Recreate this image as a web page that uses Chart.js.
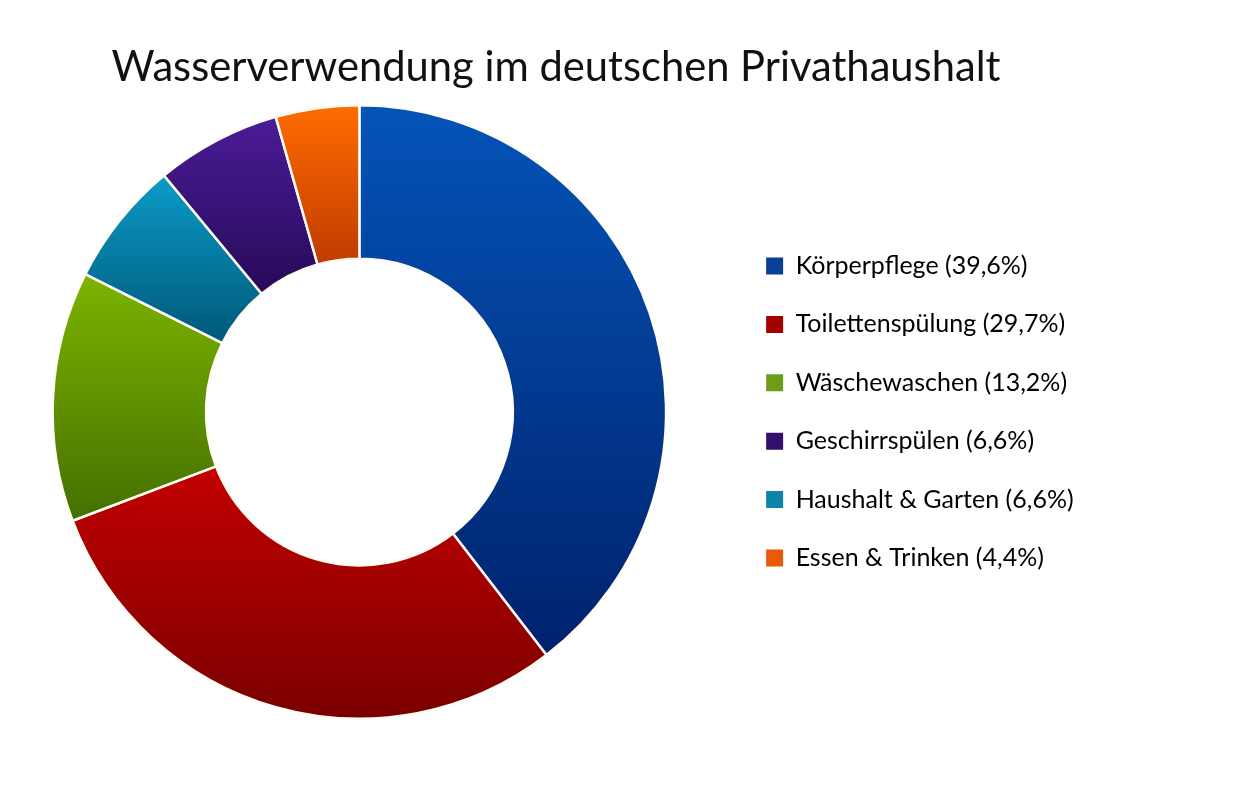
<!DOCTYPE html>
<html>
<head>
<meta charset="utf-8">
<script src="https://cdn.jsdelivr.net/npm/chart.js@4/dist/chart.umd.min.js"></script>
<style>
  html, body { margin: 0; padding: 0; background: #fff; }
  #wrap { width: 1260px; height: 798px; }
</style>
</head>
<body>
<div id="wrap"><canvas id="wasserChart"></canvas></div>
<script>
// slices in clockwise order from the top
const categories = [
  'Körperpflege',
  'Toilettenspülung',
  'Wäschewaschen',
  'Haushalt & Garten',
  'Geschirrspülen',
  'Essen & Trinken'
];
const shares = [39.6, 29.7, 13.2, 6.6, 6.6, 4.4];
// order the legend lists them in
const legendOrder = [0, 1, 2, 4, 3, 5];

const topColors = ['#0454b8', '#c20000', '#7cb400', '#0b9bc8', '#4b1c98', '#ff6c00'];
const bottomColors = ['#00216c', '#7a0000', '#447000', '#005878', '#270a58', '#c03c00'];
const legendColors = ['#0a3f98', '#a40000', '#6c9e1c', '#0c86a8', '#33106e', '#e85a06'];

function sliceGradient(context) {
  const i = context.dataIndex;
  const chart = context.chart;
  const area = chart.chartArea;
  if (!area) return topColors[i];
  const cx = (area.left + area.right) / 2;
  const cy = (area.top + area.bottom) / 2;
  const r = Math.min(area.width, area.height) / 2;
  const ri = r * 0.5;
  const total = shares.reduce((a, b) => a + b, 0);
  const before = shares.slice(0, i).reduce((a, b) => a + b, 0);
  const a0 = -Math.PI / 2 + before / total * Math.PI * 2;
  const a1 = a0 + shares[i] / total * Math.PI * 2;
  let ymin = Infinity, ymax = -Infinity;
  for (let k = 0; k <= 40; k++) {
    const a = a0 + (a1 - a0) * k / 40;
    [r, ri].forEach(rr => {
      const y = cy + rr * Math.sin(a);
      ymin = Math.min(ymin, y);
      ymax = Math.max(ymax, y);
    });
  }
  const g = chart.ctx.createLinearGradient(0, ymin, 0, ymax);
  g.addColorStop(0, topColors[i]);
  g.addColorStop(1, bottomColors[i]);
  return g;
}

// give the legend some empty room on its right side,
// and nudge the ring a bit to the left
const layoutTweaks = {
  id: 'layoutTweaks',
  beforeInit(chart) {
    const fit = chart.legend.fit;
    chart.legend.fit = function () {
      fit.bind(chart.legend)();
      this.width += 42;
    };
  },
  afterLayout(chart) {
    const a = chart.chartArea;
    a.left -= 14;
    a.width = a.right - a.left;
  }
};

const wasserChart = new Chart(
  document.querySelector('#wasserChart'),
  {
    type: 'doughnut',
    data: {
      labels: categories,
      datasets: [{
        data: shares,
        backgroundColor: sliceGradient,
        borderColor: '#fffdf4',
        borderWidth: 2.5
      }]
    },
    options: {
      responsive: true,
      maintainAspectRatio: false,
      animation: false,
      cutout: '50%',
      layout: {
        padding: { left: -13.6, right: 134.4, top: 0, bottom: 78 }
      },
      plugins: {
        title: {
          display: true,
          text: 'Wasserverwendung im deutschen Privathaushalt',
          color: '#111',
          font: { family: 'Lato', size: 41.7, weight: 'normal' },
          padding: { top: 43, bottom: 11 }
        },
        legend: {
          position: 'right',
          fullSize: false,
          labels: {
            boxWidth: 17,
            boxHeight: 17,
            padding: 33.4,
            color: '#17234f',
            font: { family: 'Lato', size: 25 },
            generateLabels: (chart) => legendOrder.map(i => ({
              text: categories[i] + ' (' + shares[i].toFixed(1).replace('.', ',') + '%)',
              fillStyle: legendColors[i],
              strokeStyle: legendColors[i],
              lineWidth: 0,
              hidden: false,
              index: i
            }))
          }
        },
        tooltip: { enabled: false }
      }
    },
    plugins: [layoutTweaks]
  }
);
</script>
</body>
</html>
